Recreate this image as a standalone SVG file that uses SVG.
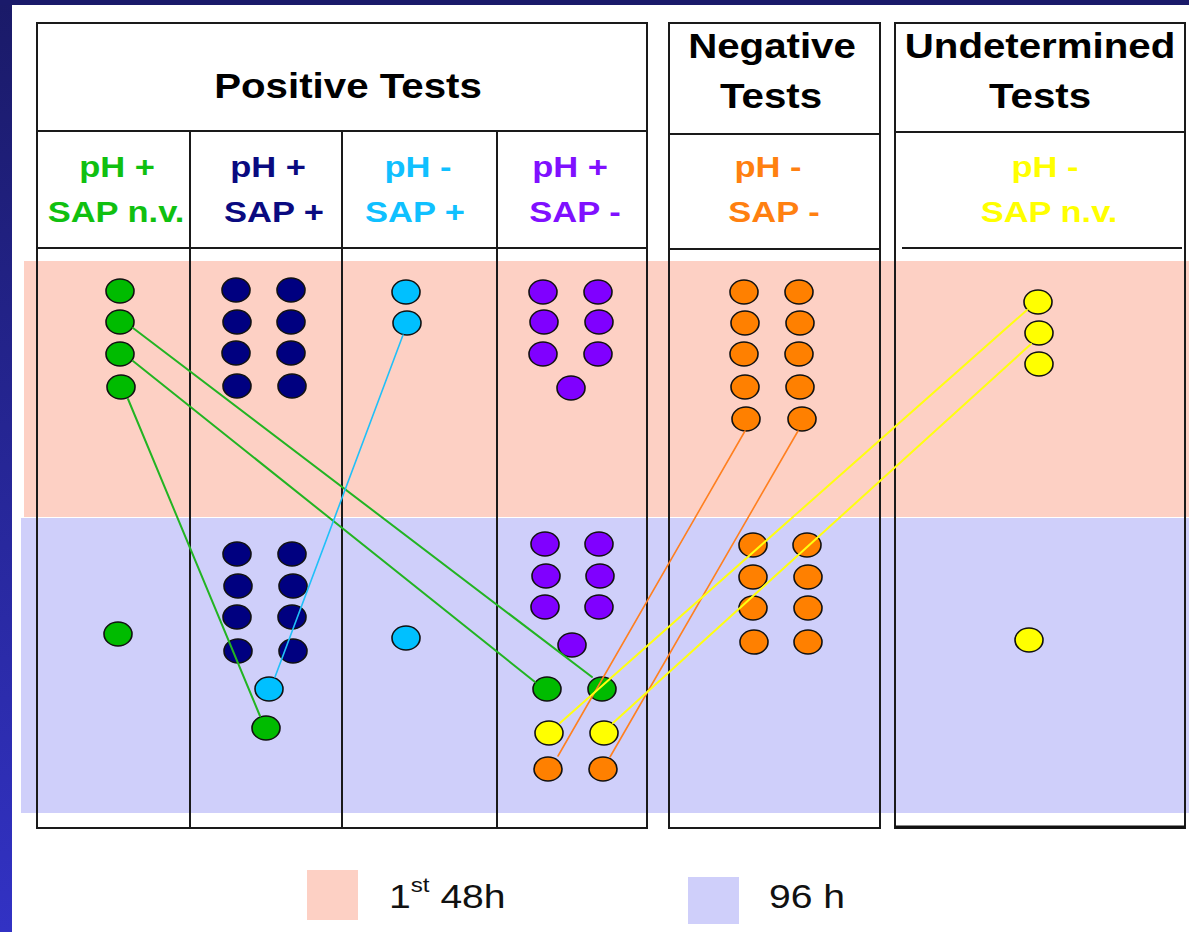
<svg xmlns="http://www.w3.org/2000/svg" width="1189" height="932" viewBox="0 0 1189 932">
<defs>
<linearGradient id="frame" x1="0" y1="0" x2="0" y2="1">
<stop offset="0" stop-color="#1a1a68"/>
<stop offset="1" stop-color="#3232c4"/>
</linearGradient>
<style>
.tl{fill:none;stroke:#1a1a1a;stroke-width:2}
.hd{font-family:"Liberation Sans",Arial,sans-serif;font-weight:bold;font-size:35px;fill:#000;text-anchor:middle}
.sh{font-family:"Liberation Sans",Arial,sans-serif;font-weight:bold;font-size:30px;text-anchor:middle}
.lg{font-family:"Liberation Sans",Arial,sans-serif;font-size:34px;fill:#111}
.d{stroke:#111;stroke-width:1.6}
.g{fill:#00bb00}.n{fill:#000080}.c{fill:#00c0ff}.p{fill:#8000ff}.o{fill:#ff8000}.y{fill:#ffff00}
.cn{fill:none;stroke-linecap:round}
</style>
</defs>
<rect width="1189" height="932" fill="#fff"/>
<rect x="0" y="0" width="12" height="932" fill="url(#frame)"/>
<rect x="0" y="0" width="1189" height="5" fill="#1a1a6a"/>

<g id="bands">
<rect x="24" y="261" width="1165" height="256" fill="#fdd0c4"/>
<rect x="21" y="518" width="1168" height="295" fill="#cfcffa"/>
</g>

<g id="positive">
<rect class="tl" x="37" y="23" width="610" height="805"/>
<line class="tl" x1="37" y1="131" x2="647" y2="131"/>
<line class="tl" x1="37" y1="248" x2="647" y2="248"/>
<line class="tl" x1="190" y1="131" x2="190" y2="828"/>
<line class="tl" x1="342" y1="131" x2="342" y2="828"/>
<line class="tl" x1="497" y1="131" x2="497" y2="828"/>
<text class="hd" transform="matrix(1.15 0 0 1 348 98)">Positive Tests</text>
</g>
<g id="negative">
<rect class="tl" x="669" y="23" width="211" height="805"/>
<line class="tl" x1="669" y1="134" x2="880" y2="134"/>
<line class="tl" x1="669" y1="249" x2="880" y2="249"/>
<text class="hd" transform="matrix(1.15 0 0 1 772 58)">Negative</text>
<text class="hd" transform="matrix(1.15 0 0 1 771 108)">Tests</text>
</g>
<g id="undetermined">
<rect class="tl" x="895" y="23" width="290" height="805"/>
<line class="tl" x1="895" y1="132" x2="1185" y2="132"/>
<line class="tl" x1="902" y1="248" x2="1182" y2="248"/>
<line x1="895" y1="827" x2="1185" y2="827" stroke="#111" stroke-width="3"/>
<text class="hd" transform="matrix(1.15 0 0 1 1040 58)">Undetermined</text>
<text class="hd" transform="matrix(1.15 0 0 1 1040 108)">Tests</text>
</g>

<g id="subheaders">
<g id="h-green" fill="#00bb00">
<text class="sh" fill="#10c010" transform="matrix(1.15 0 0 1 117 177)">pH +</text>
<text class="sh" fill="#10c010" transform="matrix(1.15 0 0 1 116 222)">SAP n.v.</text>
</g>
<g id="h-navy">
<text class="sh" fill="#0a0a80" transform="matrix(1.15 0 0 1 268 177)">pH +</text>
<text class="sh" fill="#0a0a80" transform="matrix(1.15 0 0 1 274 222)">SAP +</text>
</g>
<g id="h-cyan">
<text class="sh" fill="#10c0ff" transform="matrix(1.15 0 0 1 418 177)">pH -</text>
<text class="sh" fill="#10c0ff" transform="matrix(1.15 0 0 1 415 222)">SAP +</text>
</g>
<g id="h-purple">
<text class="sh" fill="#8010ff" transform="matrix(1.15 0 0 1 570 177)">pH +</text>
<text class="sh" fill="#8010ff" transform="matrix(1.15 0 0 1 575 222)">SAP -</text>
</g>
<g id="h-orange">
<text class="sh" fill="#ff8010" transform="matrix(1.15 0 0 1 768 177)">pH -</text>
<text class="sh" fill="#ff8010" transform="matrix(1.15 0 0 1 774 222)">SAP -</text>
</g>
<g id="h-yellow">
<text class="sh" fill="#ffff00" transform="matrix(1.15 0 0 1 1045 177)">pH -</text>
<text class="sh" fill="#ffff00" transform="matrix(1.15 0 0 1 1049 222)">SAP n.v.</text>
</g>
</g>

<g id="dots">
<g id="green-dots" class="d g">
<ellipse cx="120" cy="291" rx="14" ry="12"/>
<ellipse cx="120" cy="322" rx="14" ry="12"/>
<ellipse cx="120" cy="354" rx="14" ry="12"/>
<ellipse cx="121" cy="387" rx="14" ry="12"/>
<ellipse cx="118" cy="634" rx="14" ry="12"/>
<ellipse cx="266" cy="728" rx="14" ry="12"/>
<ellipse cx="547" cy="689" rx="14" ry="12"/>
<ellipse cx="602" cy="689" rx="14" ry="12"/>
</g>
<g id="navy-dots" class="d n">
<ellipse cx="236" cy="290" rx="14" ry="12"/>
<ellipse cx="291" cy="290" rx="14" ry="12"/>
<ellipse cx="237" cy="322" rx="14" ry="12"/>
<ellipse cx="291" cy="322" rx="14" ry="12"/>
<ellipse cx="236" cy="353" rx="14" ry="12"/>
<ellipse cx="291" cy="353" rx="14" ry="12"/>
<ellipse cx="237" cy="386" rx="14" ry="12"/>
<ellipse cx="292" cy="386" rx="14" ry="12"/>
<ellipse cx="237" cy="554" rx="14" ry="12"/>
<ellipse cx="292" cy="554" rx="14" ry="12"/>
<ellipse cx="238" cy="586" rx="14" ry="12"/>
<ellipse cx="293" cy="586" rx="14" ry="12"/>
<ellipse cx="237" cy="617" rx="14" ry="12"/>
<ellipse cx="292" cy="617" rx="14" ry="12"/>
<ellipse cx="238" cy="651" rx="14" ry="12"/>
<ellipse cx="293" cy="651" rx="14" ry="12"/>
</g>
<g id="cyan-dots" class="d c">
<ellipse cx="406" cy="292" rx="14" ry="12"/>
<ellipse cx="407" cy="323" rx="14" ry="12"/>
<ellipse cx="406" cy="638" rx="14" ry="12"/>
<ellipse cx="269" cy="689" rx="14" ry="12"/>
</g>
<g id="purple-dots" class="d p">
<ellipse cx="543" cy="292" rx="14" ry="12"/>
<ellipse cx="598" cy="292" rx="14" ry="12"/>
<ellipse cx="544" cy="322" rx="14" ry="12"/>
<ellipse cx="599" cy="322" rx="14" ry="12"/>
<ellipse cx="543" cy="354" rx="14" ry="12"/>
<ellipse cx="598" cy="354" rx="14" ry="12"/>
<ellipse cx="571" cy="388" rx="14" ry="12"/>
<ellipse cx="545" cy="544" rx="14" ry="12"/>
<ellipse cx="599" cy="544" rx="14" ry="12"/>
<ellipse cx="546" cy="576" rx="14" ry="12"/>
<ellipse cx="600" cy="576" rx="14" ry="12"/>
<ellipse cx="545" cy="607" rx="14" ry="12"/>
<ellipse cx="599" cy="607" rx="14" ry="12"/>
<ellipse cx="572" cy="645" rx="14" ry="12"/>
</g>
<g id="orange-dots" class="d o">
<ellipse cx="744" cy="292" rx="14" ry="12"/>
<ellipse cx="799" cy="292" rx="14" ry="12"/>
<ellipse cx="745" cy="323" rx="14" ry="12"/>
<ellipse cx="800" cy="323" rx="14" ry="12"/>
<ellipse cx="744" cy="354" rx="14" ry="12"/>
<ellipse cx="799" cy="354" rx="14" ry="12"/>
<ellipse cx="745" cy="387" rx="14" ry="12"/>
<ellipse cx="800" cy="387" rx="14" ry="12"/>
<ellipse cx="746" cy="419" rx="14" ry="12"/>
<ellipse cx="802" cy="419" rx="14" ry="12"/>
<ellipse cx="753" cy="545" rx="14" ry="12"/>
<ellipse cx="807" cy="545" rx="14" ry="12"/>
<ellipse cx="753" cy="577" rx="14" ry="12"/>
<ellipse cx="808" cy="577" rx="14" ry="12"/>
<ellipse cx="753" cy="608" rx="14" ry="12"/>
<ellipse cx="808" cy="608" rx="14" ry="12"/>
<ellipse cx="754" cy="642" rx="14" ry="12"/>
<ellipse cx="808" cy="642" rx="14" ry="12"/>
<ellipse cx="548" cy="769" rx="14" ry="12"/>
<ellipse cx="603" cy="769" rx="14" ry="12"/>
</g>
<g id="yellow-dots" class="d y">
<ellipse cx="1038" cy="302" rx="14" ry="12"/>
<ellipse cx="1039" cy="333" rx="14" ry="12"/>
<ellipse cx="1039" cy="364" rx="14" ry="12"/>
<ellipse cx="1029" cy="640" rx="14" ry="12"/>
<ellipse cx="549" cy="733" rx="14" ry="12"/>
<ellipse cx="604" cy="733" rx="14" ry="12"/>
</g>
</g>

<g id="connectors" class="cn">
<line x1="128" y1="399" x2="260" y2="716" stroke="#22b422" stroke-width="2"/>
<line x1="133" y1="328" x2="592" y2="677" stroke="#22b422" stroke-width="2"/>
<line x1="133" y1="361" x2="535" y2="682" stroke="#22b422" stroke-width="2"/>
<line x1="403" y1="335" x2="275" y2="677" stroke="#20c0f8" stroke-width="1.6"/>
<line x1="745" y1="431" x2="558" y2="756" stroke="#ff8020" stroke-width="1.6"/>
<line x1="798" y1="431" x2="610" y2="757" stroke="#ff8020" stroke-width="1.6"/>
<line x1="1027" y1="310" x2="560" y2="723" stroke="#ffff10" stroke-width="2"/>
<line x1="1031" y1="344" x2="613" y2="723" stroke="#ffff10" stroke-width="2"/>
</g>

<g id="legend">
<rect x="307" y="870" width="51" height="50" fill="#fdd0c4"/>
<text class="lg" transform="matrix(1.15 0 0 1 389 908)">1<tspan font-size="21" dy="-16">st</tspan><tspan dy="16"> 48h</tspan></text>
<rect x="688" y="877" width="51" height="47" fill="#cfcffa"/>
<text class="lg" transform="matrix(1.15 0 0 1 769 908)">96 h</text>
</g>
</svg>
